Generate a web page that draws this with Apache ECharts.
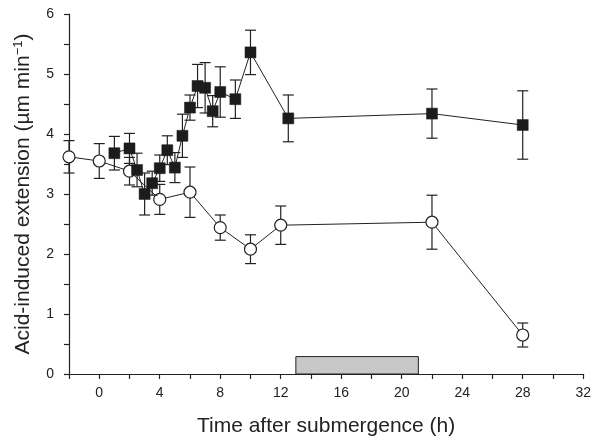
<!DOCTYPE html>
<html>
<head>
<meta charset="utf-8">
<script src="https://cdn.jsdelivr.net/npm/echarts@6/dist/echarts.min.js"></script>
<style>
  html, body { margin: 0; padding: 0; background: #fff; }
  #chart { width: 594px; height: 443px; }
</style>
</head>
<body>
<div id="chart"></div>
<script>
// open circles
const circleX = [-2, 0, 2, 4, 6, 8, 10, 12, 22, 28];
const circleY = [3.62, 3.55, 3.38, 2.91, 3.03, 2.44, 2.08, 2.48, 2.53, 0.65];
const circleErr = [0.27, 0.29, 0.23, 0.25, 0.42, 0.21, 0.24, 0.32, 0.45, 0.2];

// filled squares
const squareX = [1, 2, 2.5, 3, 3.5, 4, 4.5, 5, 5.5, 6, 6.5, 7, 7.5, 8, 9, 10, 12.5, 22, 28];
const squareY = [3.68, 3.76, 3.4, 3.0, 3.18, 3.43, 3.73, 3.44, 3.97, 4.44, 4.8, 4.77, 4.38, 4.7, 4.58, 5.36, 4.26, 4.34, 4.15];
const squareErr = [0.28, 0.25, 0.28, 0.35, 0.2, 0.22, 0.24, 0.25, 0.36, 0.21, 0.36, 0.42, 0.26, 0.42, 0.32, 0.37, 0.39, 0.41, 0.57];

// grey bar: [start, end, height]
const barSpan = [[13, 21.1, 0.29]];

const ink = '#222';

function points(xs, ys) {
  return xs.map((x, i) => [x, ys[i]]);
}
function errData(xs, ys, es) {
  return xs.map((x, i) => [x, ys[i] - es[i], ys[i] + es[i]]);
}

function errRender(params, api) {
  const x = api.value(0);
  const lo = api.coord([x, api.value(1)]);
  const hi = api.coord([x, api.value(2)]);
  const w = 5.5;
  const style = { stroke: ink, lineWidth: 1.2 };
  return {
    type: 'group',
    children: [
      { type: 'line', shape: { x1: lo[0], y1: lo[1], x2: hi[0], y2: hi[1] }, style },
      { type: 'line', shape: { x1: hi[0] - w, y1: hi[1], x2: hi[0] + w, y2: hi[1] }, style },
      { type: 'line', shape: { x1: lo[0] - w, y1: lo[1], x2: lo[0] + w, y2: lo[1] }, style }
    ]
  };
}

function barRender(params, api) {
  const a = api.coord([api.value(0), api.value(2)]);
  const b = api.coord([api.value(1), 0]);
  return {
    type: 'rect',
    shape: { x: a[0], y: a[1], width: b[0] - a[0], height: b[1] - a[1] },
    style: { fill: '#c8c8c8', stroke: ink, lineWidth: 1 }
  };
}

const font = 'Liberation Sans, Arial, Helvetica, sans-serif';

const chart = echarts.init(document.getElementById('chart'));
chart.setOption({
  animation: false,
  grid: { left: 69, right: 8, top: 14, bottom: 69 },
  xAxis: {
    type: 'value',
    min: -2,
    max: 32,
    interval: 2,
    name: 'Time after submergence (h)',
    nameLocation: 'middle',
    nameGap: 42,
    nameTextStyle: { fontSize: 21, color: ink, fontFamily: font },
    axisLine: { onZero: false, lineStyle: { color: ink, width: 1.2 } },
    axisTick: { inside: false, length: 5, lineStyle: { color: ink, width: 1.2 } },
    axisLabel: {
      margin: 12,
      fontSize: 14,
      color: ink,
      fontFamily: font,
      formatter: v => (v % 4 === 0 ? String(v) : '')
    },
    splitLine: { show: false }
  },
  yAxis: {
    type: 'value',
    min: 0,
    max: 6,
    interval: 0.5,
    name: '{a|Acid-induced extension (µm min}{s|−1}{a|)}',
    nameLocation: 'middle',
    nameGap: 34,
    nameTextStyle: {
      color: ink,
      fontFamily: font,
      rich: {
        a: { fontSize: 21, color: ink, fontFamily: font },
        s: { fontSize: 13, color: ink, fontFamily: font, verticalAlign: 'top', padding: [0, 0, 10, 0] }
      }
    },
    axisLine: { show: true, onZero: false, lineStyle: { color: ink, width: 1.2 } },
    axisTick: { show: true, inside: false, length: 5, lineStyle: { color: ink, width: 1.2 } },
    axisLabel: {
      margin: 15,
      fontSize: 14,
      color: ink,
      fontFamily: font,
      formatter: v => (Number.isInteger(v) ? String(v) : '')
    },
    splitLine: { show: false }
  },
  series: [
    {
      type: 'custom',
      renderItem: barRender,
      data: barSpan,
      z: 1
    },
    {
      type: 'custom',
      renderItem: errRender,
      data: errData(circleX, circleY, circleErr),
      z: 2
    },
    {
      type: 'line',
      data: points(circleX, circleY),
      symbol: 'circle',
      symbolSize: 12,
      showAllSymbol: true,
      lineStyle: { color: ink, width: 1 },
      itemStyle: { color: '#fff', borderColor: ink, borderWidth: 1.2 },
      z: 3
    },
    {
      type: 'custom',
      renderItem: errRender,
      data: errData(squareX, squareY, squareErr),
      z: 4
    },
    {
      type: 'line',
      data: points(squareX, squareY),
      symbol: 'rect',
      symbolSize: 11,
      showAllSymbol: true,
      lineStyle: { color: ink, width: 1 },
      itemStyle: { color: '#1c1c1c', borderColor: '#1c1c1c', borderWidth: 0.5 },
      z: 5
    }
  ]
});
</script>
</body>
</html>
